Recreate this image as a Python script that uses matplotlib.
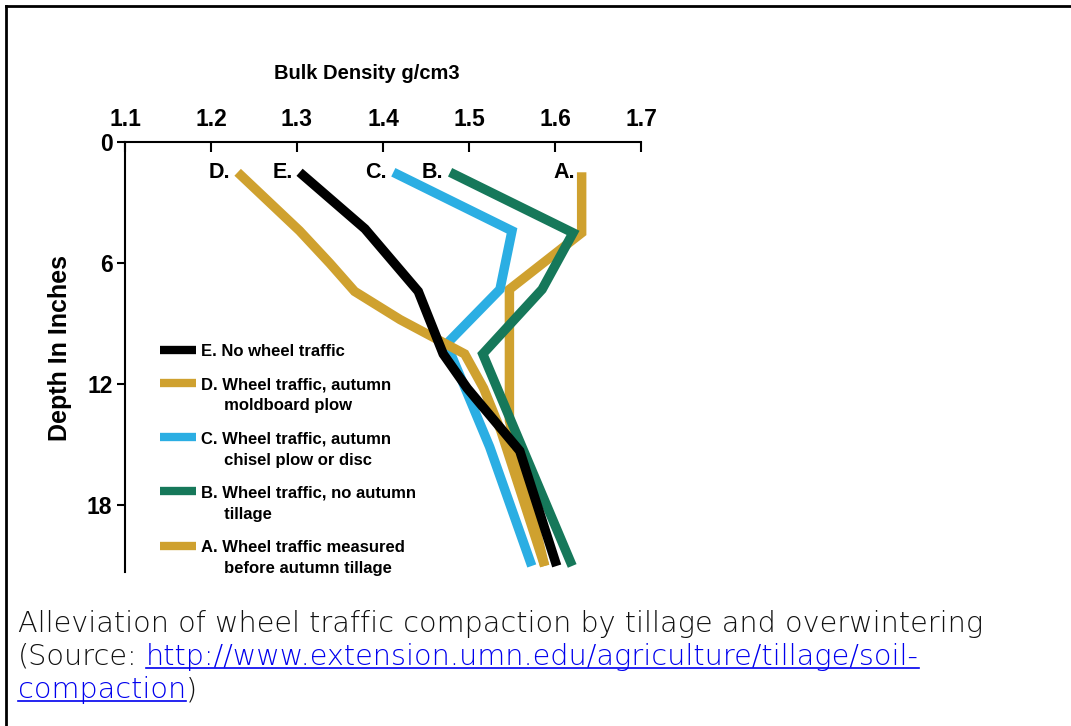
import numpy as np
import matplotlib.pyplot as plt
from matplotlib.lines import Line2D
from matplotlib.legend_handler import HandlerLine2D

# depth (inches) and bulk density (g/cm3)
depth_a = [1.5, 4.5, 7.3, 13.8, 21.0]
dens_a = [1.631, 1.631, 1.547, 1.547, 1.588]

depth_b = [1.5, 4.5, 7.3, 10.5, 21.0]
dens_b = [1.478, 1.621, 1.585, 1.516, 1.620]

depth_c = [1.5, 4.4, 7.3, 10.0, 15.1, 21.0]
dens_c = [1.412, 1.550, 1.536, 1.474, 1.524, 1.573]

depth_d = [1.5, 4.4, 6.0, 7.4, 8.8, 10.5, 12.2, 14.3, 21.0]
dens_d = [1.231, 1.303, 1.338, 1.367, 1.420, 1.495, 1.517, 1.537, 1.588]

depth_e = [1.5, 4.3, 7.4, 10.5, 12.2, 15.3, 21.0]
dens_e = [1.303, 1.379, 1.441, 1.470, 1.498, 1.559, 1.602]

tags = ['A.', 'B.', 'C.', 'D.', 'E.']
labels = ['A. Wheel traffic measured\n     before autumn tillage',
          'B. Wheel traffic, no autumn\n     tillage',
          'C. Wheel traffic, autumn\n     chisel plow or disc',
          'D. Wheel traffic, autumn\n     moldboard plow',
          'E. No wheel traffic']
colors = ['#CFA12F', '#16785A', '#2BAEE3', '#CFA12F', '#000000']

x_ticks = [1.1, 1.2, 1.3, 1.4, 1.5, 1.6, 1.7]
y_ticks = [0, 6, 12, 18]

W, H = 1071, 726
plt.rcParams['font.family'] = ['Liberation Sans', 'DejaVu Sans']

fig = plt.figure(figsize=(W / 100, H / 100), dpi=100)
ax = fig.add_axes([125 / W, 154 / H, 516 / W, 430 / H])

series = [(dens_a, depth_a), (dens_b, depth_b), (dens_c, depth_c),
          (dens_d, depth_d), (dens_e, depth_e)]
lines = []
for (dens, depth), col, lab, tag in zip(series, colors, labels, tags):
    ln, = ax.plot(dens, depth, color=col, lw=6.8, label=lab,
                  solid_joinstyle='miter', solid_capstyle='butt')
    lines.append(ln)
    ax.annotate(tag, (dens[0], depth[0]), xytext=(-5, 0), textcoords='offset points',
                ha='right', va='center', fontsize=15.5, fontweight='bold')

ax.set_xlim(1.1, 1.7)
ax.set_ylim(21.3, 0)
ax.xaxis.tick_top()
ax.xaxis.set_label_position('top')
ax.set_xticks(x_ticks)
ax.set_xticklabels([f'{v:.1f}' for v in x_ticks], fontsize=16.5, fontweight='bold')
ax.set_yticks(y_ticks)
ax.set_yticklabels([str(v) for v in y_ticks], fontsize=16.5, fontweight='bold')
ax.tick_params(axis='x', direction='in', length=7, width=1.5, pad=8)
ax.tick_params(axis='y', direction='out', length=6, width=1.5, pad=3)
for s in ['right', 'bottom']:
    ax.spines[s].set_visible(False)
for s in ['top', 'left']:
    ax.spines[s].set_linewidth(1.5)

ax.set_xlabel('Bulk Density g/cm3', fontsize=14.5, fontweight='bold')
ax.xaxis.set_label_coords((367 - 125) / 516, 1 + (142 - 79) / 430)
ax.set_ylabel('Depth In Inches', fontsize=18, fontweight='bold')
ax.yaxis.set_label_coords(-0.103, 0.52)


class FirstLineHandler(HandlerLine2D):
    # keep the swatch level with the first line of a two-line label
    def __init__(self, shift=0.0, **kw):
        super().__init__(**kw)
        self.shift = shift

    def create_artists(self, legend, orig_handle, xdescent, ydescent, width, height,
                       fontsize, trans):
        arts = super().create_artists(legend, orig_handle, xdescent, ydescent, width,
                                      height, fontsize, trans)
        for a in arts:
            a.set_ydata(np.asarray(a.get_ydata()) + self.shift * fontsize)
        return arts


order = [4, 3, 2, 1, 0]
hmap = {lines[i]: FirstLineHandler(shift=(0.0 if i == 4 else 0.77)) for i in order}
leg = fig.legend([lines[i] for i in order], [labels[i] for i in order],
                 loc='upper left', bbox_to_anchor=(160 / W, 1 - 344 / H),
                 frameon=False, borderpad=0, borderaxespad=0,
                 prop={'weight': 'bold', 'size': 12}, handlelength=2.15,
                 handletextpad=0.3, labelspacing=1.1, handler_map=hmap)
for t in leg.get_texts():
    t.set_linespacing(1.5)
for ln in leg.get_lines():
    ln.set_linewidth(6)

# frame of the page
fig.add_artist(Line2D([6 / W, 1], [1 - 6 / H, 1 - 6 / H], color='black', lw=2))
fig.add_artist(Line2D([6 / W, 6 / W], [0, 1 - 6 / H], color='black', lw=2))

# caption with link
renderer = fig.canvas.get_renderer()
cap = dict(fontsize=20.7, family=['DejaVu Sans'], fontweight='light', va='baseline')
link_col = '#0000EE'


def put(x, y, s, color, underline=False):
    t = fig.text(x / W, 1 - y / H, s, color=color, **cap)
    bb = t.get_window_extent(renderer)
    if underline:
        fig.add_artist(Line2D([bb.x0 / W, bb.x1 / W], [(H - y - 3) / H] * 2,
                              color=color, lw=1.2))
    return bb.x1


put(18, 632, 'Alleviation of wheel traffic compaction by tillage and overwintering', '#111111')
x = put(18, 665, '(Source:', '#111111')
put(x + 8, 665, 'http://www.extension.umn.edu/agriculture/tillage/soil-', link_col, True)
x = put(18, 698, 'compaction', link_col, True)
put(x, 698, ')', '#111111')

fig.savefig('out.png', dpi=100)
